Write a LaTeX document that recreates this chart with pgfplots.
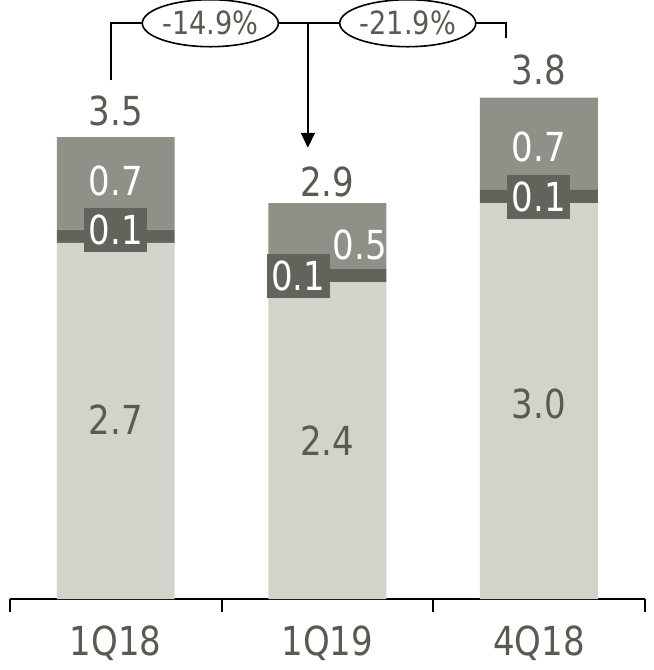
\documentclass[border=0pt]{standalone}
\usepackage{pgfplots}
\pgfplotsset{compat=1.18}
\usepackage{fontspec}
\setmainfont{DejaVu Sans}[FakeStretch=0.85]
\usetikzlibrary{arrows.meta,shapes.geometric}
\definecolor{lightbar}{HTML}{D3D3CB}
\definecolor{midbar}{HTML}{909089}
\definecolor{darkbar}{HTML}{63635B}
\definecolor{txt}{HTML}{5A5A52}
\newcommand\labfont{\fontsize{20}{22}\selectfont}
\newcommand\chgfont{\fontsize{16}{18}\selectfont}
\tikzset{
  thinlab/.style={fill=darkbar, text=white, font=\labfont, minimum width=31.5pt, minimum height=22pt, inner sep=0pt},
  chg/.style={ellipse, draw=black, fill=white, line width=0.8pt, minimum width=68pt, minimum height=23.5pt, inner sep=0pt, text=txt, font=\chgfont},
}
% value labels and change brackets, drawn on top of the stacked bars
\newcommand\annotations{%
  \node[text=txt, font=\labfont] at (axis cs:0,3.70) {3.5};
  \node[text=txt, font=\labfont] at (axis cs:1,3.16) {2.9};
  \node[text=txt, font=\labfont] at (axis cs:2,4.01) {3.8};
  \node[text=white, font=\labfont] at (axis cs:0,3.17) {0.7};
  \node[text=white, font=\labfont] at (axis cs:1.153,2.68) {0.5};
  \node[text=white, font=\labfont] at (axis cs:2,3.43) {0.7};
  \node[thinlab] at (axis cs:0,2.80) {0.1};
  \node[thinlab] at (axis cs:0.863,2.45) {0.1};
  \node[thinlab] at (axis cs:2,3.05) {0.1};
  \node[text=txt, font=\labfont] at (axis cs:0,1.36) {2.7};
  \node[text=txt, font=\labfont] at (axis cs:1,1.20) {2.4};
  \node[text=txt, font=\labfont] at (axis cs:2,1.48) {3.0};
  \draw[black, line width=1pt] (axis cs:-0.023,3.93) |- (axis cs:1.843,4.364) -- (axis cs:1.843,4.25);
  \draw[black, line width=1pt, -{Triangle[width=7pt,length=7.5pt]}] (axis cs:0.908,4.364) -- (axis cs:0.908,3.42);
  \node[chg] at (axis cs:0.447,4.364) {-14.9\%};
  \node[chg] at (axis cs:1.380,4.364) {-21.9\%};
  \coordinate (bl) at (axis cs:-0.547,-0.538);
  \coordinate (tr) at (axis cs:2.543,4.54);
}
\begin{document}
\begin{tikzpicture}
\begin{axis}[
  x=105.85pt, y=66pt,
  xmin=-0.5, xmax=2.5, ymin=0, ymax=4.54,
  axis x line=bottom, axis y line=none,
  axis line style={black, line width=1pt, -},
  ybar stacked, bar width=59pt,
  xtick={0,1,2}, xticklabels={1Q18,1Q19,4Q18},
  major tick length=0pt,
  minor xtick={-0.5,0.5,1.5,2.5},
  minor tick length=6.5pt,
  xtick align=outside,
  xtick style={black, line width=1pt},
  xticklabel style={text=txt, font=\labfont, anchor=base, yshift=-28.5pt},
  clip=false,
  after end axis/.code={\annotations},
]
\addplot[fill=lightbar, draw=none] coordinates {(0,2.7) (1,2.4) (2,3.0)};
\addplot[fill=darkbar, draw=none] coordinates {(0,0.1) (1,0.1) (2,0.1)};
\addplot[fill=midbar, draw=none] coordinates {(0,0.7) (1,0.5) (2,0.7)};
\end{axis}
\pgfresetboundingbox
\path (bl) rectangle (tr);
\end{tikzpicture}
\end{document}
